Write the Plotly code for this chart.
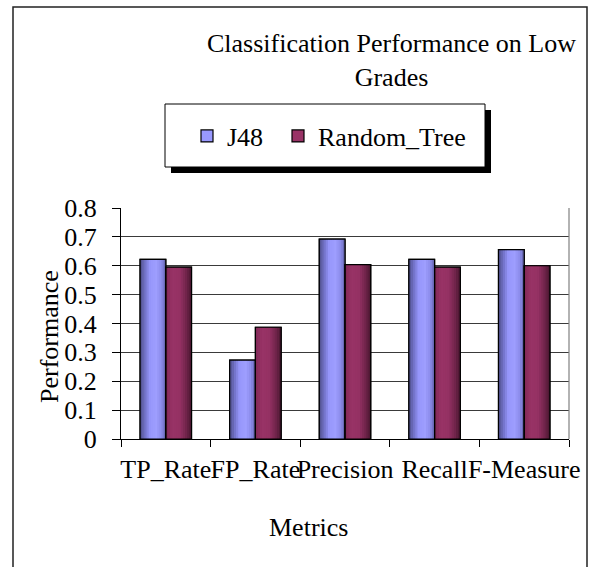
import plotly.graph_objects as go

# ---- data ----
metrics = ["TP_Rate", "FP_Rate", "Precision", "Recall", "F-Measure"]
j48 = [0.622, 0.273, 0.692, 0.622, 0.656]
random_tree = [0.595, 0.387, 0.604, 0.595, 0.600]
series_names = ["J48", "Random_Tree"]
y_tick_vals = [0, 0.1, 0.2, 0.3, 0.4, 0.5, 0.6, 0.7, 0.8]
y_tick_text = ["0", "0.1", "0.2", "0.3", "0.4", "0.5", "0.6", "0.7", "0.8"]
chart_title = "Classification Performance on Low<br>Grades"
x_title = "Metrics"
y_title = "Performance"

# ---- style ----
W, H = 590, 567
L, R, T, B = 121, 21, 208, 128
PW, PH = W - L - R, H - T - B
FONT = "Times New Roman, Liberation Serif, serif"
FS = 26
BAR_W = 0.287
base_colors = ["#9999FF", "#993366"]
grad_stops = [
    [(0.0, (78, 78, 138)), (0.18, (112, 112, 196)), (0.38, (150, 150, 250)),
     (0.62, (158, 158, 255)), (0.85, (138, 138, 232)), (1.0, (92, 92, 160))],
    [(0.0, (128, 40, 86)), (0.25, (153, 51, 102)), (0.55, (148, 49, 99)),
     (0.8, (112, 36, 74)), (1.0, (72, 22, 46))],
]
N_STRIPS = 12
legend_ids = ["legend", "legend2"]
legend_px = [187, 278]


def px_x(p):
    return (p - L) / PW


def px_y(p):
    return (H - B - p) / PH


def grad(stops, t):
    for (t0, c0), (t1, c1) in zip(stops[:-1], stops[1:]):
        if t0 <= t <= t1:
            f = (t - t0) / (t1 - t0) if t1 > t0 else 0
            c = [round(a + (b - a) * f) for a, b in zip(c0, c1)]
            return "rgb(%d,%d,%d)" % tuple(c)
    return "rgb(%d,%d,%d)" % stops[-1][1]


fig = go.Figure()
all_vals = [j48, random_tree]
offsets = [-BAR_W, 0.0]

for k, vals in enumerate(all_vals):
    # base bar (also the legend entry)
    fig.add_trace(go.Bar(
        x=metrics, y=vals, name=series_names[k], offset=offsets[k], width=BAR_W,
        marker=dict(color=base_colors[k], line=dict(color="black", width=1.2)),
        hoverinfo="skip", showlegend=True, legend=legend_ids[k],
    ))
    sw = BAR_W / N_STRIPS
    for i in range(N_STRIPS):
        t = (i + 0.5) / N_STRIPS
        fig.add_trace(go.Bar(
            x=metrics, y=vals, offset=offsets[k] + i * sw,
            width=sw * (1.35 if i < N_STRIPS - 1 else 1.0),
            marker=dict(color=grad(grad_stops[k], t), line=dict(width=0)),
            hoverinfo="skip", showlegend=False,
        ))
for k, vals in enumerate(all_vals):
    fig.add_trace(go.Bar(
        x=metrics, y=vals, offset=offsets[k], width=BAR_W,
        marker=dict(color="rgba(0,0,0,0)", line=dict(color="black", width=1.2)),
        hoverinfo="skip", showlegend=False,
    ))

shapes = [
    # outer chart frame
    dict(type="rect", xref="paper", yref="paper", x0=px_x(13), x1=px_x(587),
         y0=px_y(575), y1=px_y(7), line=dict(color="#222", width=1.5),
         fillcolor="rgba(0,0,0,0)", layer="below"),
    # legend shadow and box
    dict(type="rect", xref="paper", yref="paper", x0=px_x(171), x1=px_x(491),
         y0=px_y(173), y1=px_y(110), line=dict(width=0), fillcolor="black"),
    dict(type="rect", xref="paper", yref="paper", x0=px_x(165), x1=px_x(485),
         y0=px_y(167), y1=px_y(104), line=dict(color="black", width=1),
         fillcolor="white"),
    # right border of plot area
    dict(type="line", xref="paper", yref="paper", x0=1, x1=1, y0=0, y1=1,
         line=dict(color="#808080", width=1.2)),
]

annotations = [
    dict(text=chart_title, xref="paper", yref="paper", x=px_x(391.7), y=px_y(61),
         xanchor="center", yanchor="middle", showarrow=False,
         font=dict(family=FONT, size=FS, color="black")),
    dict(text=y_title, xref="paper", yref="paper", x=px_x(49), y=px_y(337),
         xanchor="center", yanchor="middle", textangle=-90, showarrow=False,
         font=dict(family=FONT, size=FS, color="black")),
    dict(text=x_title, xref="paper", yref="paper", x=px_x(308.5), y=px_y(527),
         xanchor="center", yanchor="middle", showarrow=False,
         font=dict(family=FONT, size=FS, color="black")),
]

legend_common = dict(orientation="h", xanchor="left", yanchor="middle",
                     bgcolor="rgba(0,0,0,0)", borderwidth=0,
                     font=dict(family=FONT, size=FS, color="black"),
                     itemclick=False, itemdoubleclick=False)

fig.update_layout(
    width=W, height=H,
    margin=dict(l=L, r=R, t=T, b=B, pad=0, autoexpand=False),
    paper_bgcolor="white", plot_bgcolor="white",
    barmode="overlay",
    font=dict(family=FONT, size=FS, color="black"),
    showlegend=True,
    legend=dict(x=px_x(legend_px[0]), y=px_y(136), **legend_common),
    legend2=dict(x=px_x(legend_px[1]), y=px_y(136), **legend_common),
    shapes=shapes,
    annotations=annotations,
    xaxis=dict(type="category", range=[-0.5, 4.5], tickson="boundaries",
               ticks="outside", ticklen=7, tickcolor="black", tickwidth=1,
               showline=True, linecolor="black", linewidth=1, showgrid=False,
               tickangle=0, automargin=False,
               ticklabelstandoff=7, tickfont=dict(family=FONT, size=FS)),
    yaxis=dict(range=[0, 0.8], tickvals=y_tick_vals, ticktext=y_tick_text,
               ticks="outside", ticklen=8, tickcolor="black", tickwidth=1,
               showline=True, linecolor="black", linewidth=1, automargin=False,
               showgrid=True, gridcolor="#3a3a3a", gridwidth=1, zeroline=False,
               ticklabelstandoff=10, tickfont=dict(family=FONT, size=FS)),
)

fig.write_html("out.html")
